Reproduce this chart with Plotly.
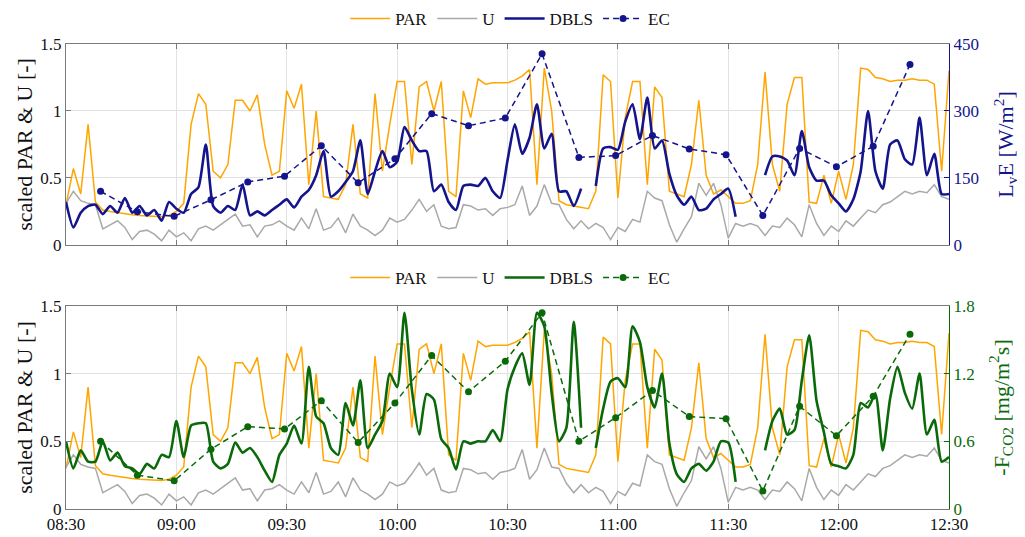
import pandas as pd
import plotly.graph_objects as go
from plotly.subplots import make_subplots

# ---------------- data ----------------
DAY = "2019-07-01"
# 2-minute grid 08:30 ... 12:30
time = pd.date_range(f"{DAY} 08:30", periods=121, freq="2min")
# EC averaging intervals (10 min)
ec_time = pd.date_range(f"{DAY} 08:39:24", periods=23, freq="10min")

# scaled PAR [-]
par = [
    0.30, 0.57, 0.38, 0.90, 0.32, 0.26, 0.25, 0.24, 0.23, 0.225,
    0.22, 0.215, 0.21, 0.21, 0.22, 0.25, 0.31, 0.90, 1.13, 1.05,
    0.55, 0.50, 0.60, 1.08, 1.08, 1.00, 1.12, 0.75, 0.52, 0.55,
    1.15, 1.02, 1.20, 0.45, 1.00, 0.36, 0.35, 0.34, 0.45, 0.90,
    0.38, 0.35, 1.13, 0.55, 0.90, 1.22, 1.22, 0.60, 1.18, 1.22,
    1.00, 1.22, 0.40, 0.36, 1.15, 0.95, 1.24, 1.20, 1.21, 1.21,
    1.21, 1.23, 1.26, 1.31, 0.45, 1.32, 1.00, 0.33, 0.30, 0.29,
    0.28, 0.27, 0.40, 1.27, 1.22, 0.35, 0.95, 1.22, 1.22, 0.45,
    1.18, 1.10, 0.40, 0.38, 0.36, 0.60, 1.08, 0.52, 0.38, 0.41,
    0.36, 0.31, 0.31, 0.33, 0.60, 1.29, 0.60, 0.40, 1.05, 1.25,
    1.25, 0.32, 0.31, 0.52, 0.31, 0.55, 0.34, 0.60, 1.32, 1.31,
    1.25, 1.24, 1.22, 1.23, 1.23, 1.24, 1.23, 1.23, 1.20, 0.55,
    1.30,
]

# scaled U [-]
u = [
    0.31, 0.40, 0.33, 0.31, 0.30, 0.12, 0.15, 0.18, 0.13, 0.04,
    0.10, 0.11, 0.08, 0.03, 0.11, 0.06, 0.09, 0.03, 0.12, 0.14,
    0.11, 0.15, 0.19, 0.23, 0.14, 0.15, 0.06, 0.14, 0.15, 0.18,
    0.14, 0.11, 0.20, 0.12, 0.27, 0.11, 0.13, 0.20, 0.09, 0.23,
    0.14, 0.11, 0.07, 0.11, 0.20, 0.17, 0.19, 0.26, 0.34, 0.25,
    0.30, 0.14, 0.12, 0.13, 0.30, 0.29, 0.26, 0.27, 0.22, 0.27,
    0.28, 0.30, 0.44, 0.22, 0.29, 0.45, 0.31, 0.30, 0.19, 0.12,
    0.18, 0.12, 0.16, 0.13, 0.04, 0.13, 0.10, 0.19, 0.17, 0.40,
    0.35, 0.33, 0.15, 0.02, 0.12, 0.21, 0.46, 0.37, 0.46, 0.30,
    0.05, 0.16, 0.14, 0.16, 0.14, 0.07, 0.14, 0.13, 0.20, 0.15,
    0.06, 0.30, 0.16, 0.07, 0.14, 0.10, 0.18, 0.14, 0.20, 0.26,
    0.24, 0.30, 0.32, 0.36, 0.40, 0.38, 0.40, 0.39, 0.45, 0.36,
    0.34,
]

# DBLS latent heat flux L_vE [W/m2]
dbls_le = [
    96, 39, 72, 87, 90, 69, 87, 72, 105, 72,
    87, 66, 78, 54, 96, 81, 72, 114, 129, 225,
    87, 72, 87, 78, 135, 66, 75, 66, 78, 90,
    102, 84, 108, 123, 156, 210, 108, 120, 141, 165,
    234, 114, 165, 210, 174, 186, 264, 234, 210, 210,
    120, 135, 96, 78, 132, 135, 132, 150, 120, 105,
    189, 270, 204, 240, 315, 216, 249, 120, 120, 87,
    126, None, 132, 216, 219, 213, 276, 315, 237, 330,
    216, 234, 159, 111, 90, 108, 78, 81, 102, 114,
    126, 63, None, None, None, 156, 198, 198, 189, 156,
    255, 174, 144, 144, 111, 93, 75, 102, 165, 300,
    165, 126, 225, 234, 192, 180, 285, 156, 204, 114,
    114,
]

# DBLS CO2 flux -F_CO2 [mg/m2 s]
dbls_fc = [
    0.60, 0.36, 0.52, 0.42, 0.42, 0.60, 0.43, 0.50, 0.38, 0.36,
    0.31, 0.40, 0.36, 0.48, 0.46, 0.78, 0.46, 0.74, 0.76, 0.76,
    0.42, 0.36, 0.40, 0.59, 0.50, 0.54, 0.46, 0.34, 0.24, 0.48,
    0.58, 0.74, 0.58, 1.26, 0.82, 0.76, 0.54, 0.48, 0.94, 0.74,
    1.14, 0.54, 0.66, 0.78, 1.20, 1.08, 1.74, 1.06, 0.66, 1.02,
    0.97, 0.62, 0.54, 0.35, 0.60, 0.58, 0.60, 0.60, 0.70, 0.60,
    1.06, 1.26, 1.38, 1.10, 1.74, 1.62, 1.03, 0.60, 0.72, 1.66,
    0.72, None, 0.54, 0.89, 1.13, 1.16, 1.08, 1.62, 1.48, 1.08,
    0.90, 1.20, 0.58, 0.31, 0.24, 0.36, 0.40, 0.34, 0.42, 0.60,
    0.59, 0.24, None, None, None, 0.52, 0.78, 0.89, 0.66, 0.70,
    1.14, 1.54, 0.96, 0.68, 0.40, 0.38, 0.36, 0.48, 0.94, 0.90,
    1.02, 0.52, 0.98, 1.26, 1.03, 0.89, 1.20, 0.66, 0.79, 0.42,
    0.46,
]

# EC 10-min fluxes
ec_le = [120, 74, 64, 101, 141, 154, 222, 139, 193, 294, 267, 284,
         428, 196, 200, 245, 215, 202, 66, 216, 175, 221, 404]
ec_fc = [0.60, 0.30, 0.25, 0.53, 0.73, 0.71, 0.96, 0.59, 0.94, 1.36, 1.04, 1.31,
         1.74, 0.60, 0.81, 1.05, 0.82, 0.80, 0.16, 0.91, 0.65, 1.00, 1.55]

left_ticks = [0, 0.5, 1, 1.5]
left_ticktext = ["0", "0.5", "1", "1.5"]
le_ticks = [0, 150, 300, 450]
fc_ticks = [0, 0.6, 1.2, 1.8]
fc_ticktext = ["0", "0.6", "1.2", "1.8"]

# ---------------- styling ----------------
FONT = "Liberation Serif"
ORANGE = "#FFA500"
GRAY = "#A9A9A9"
BLUE = "#14148C"
GREEN = "#0A6A0A"
AXC = "#7A7A7A"
GRID = "#E2E2E2"
TXT = "#111111"

fig = make_subplots(rows=2, cols=1,
                    specs=[[{"secondary_y": True}], [{"secondary_y": True}]])

for row, flux, ec, col, leg in [(1, dbls_le, ec_le, BLUE, "legend"),
                                (2, dbls_fc, ec_fc, GREEN, "legend2")]:
    fig.add_trace(go.Scatter(x=time, y=par, name="PAR", mode="lines",
                             line=dict(color=ORANGE, width=1.5), legend=leg),
                  row=row, col=1, secondary_y=False)
    fig.add_trace(go.Scatter(x=time, y=u, name="U", mode="lines",
                             line=dict(color=GRAY, width=1.5), legend=leg),
                  row=row, col=1, secondary_y=False)
    fig.add_trace(go.Scatter(x=time, y=flux, name="DBLS", mode="lines",
                             line=dict(color=col, width=2.6, shape="spline", smoothing=0.6),
                             connectgaps=False, legend=leg),
                  row=row, col=1, secondary_y=True)
    fig.add_trace(go.Scatter(x=ec_time, y=ec, name="EC", mode="lines+markers",
                             line=dict(color=col, width=1.5, dash="6px,4px"),
                             marker=dict(color=col, size=7), legend=leg),
                  row=row, col=1, secondary_y=True)

xcommon = dict(type="date", domain=[0.0, 1.0],
               range=[f"{DAY} 08:30", f"{DAY} 12:30"],
               tick0=f"{DAY} 08:30", dtick=30 * 60 * 1000, tickformat="%H:%M",
               showgrid=True, gridcolor=GRID, gridwidth=1,
               showline=True, linecolor=AXC, linewidth=1, mirror="ticks",
               ticks="inside", ticklen=5, tickcolor=AXC,
               zeroline=False, automargin=False,
               tickfont=dict(family=FONT, size=17, color=TXT))
fig.update_xaxes(**xcommon)
fig.update_xaxes(showticklabels=False, row=1, col=1)

ycommon = dict(range=[0, 1.5], tickvals=left_ticks, ticktext=left_ticktext,
               showgrid=True, gridcolor=GRID, showline=True, linecolor=AXC,
               ticks="inside", ticklen=5, tickcolor=AXC, zeroline=False,
               automargin=False,
               tickfont=dict(family=FONT, size=17, color=TXT),
               title=dict(text="scaled PAR &amp; U [-]", standoff=1,
                          font=dict(family=FONT, size=22, color=TXT)))
fig.update_yaxes(**ycommon, row=1, col=1, secondary_y=False)
fig.update_yaxes(**ycommon, row=2, col=1, secondary_y=False)

fig.update_yaxes(range=[0, 450], tickvals=le_ticks, showgrid=False, zeroline=False,
                 showline=True, linecolor=BLUE, ticks="inside", ticklen=5, tickcolor=BLUE,
                 automargin=False,
                 tickfont=dict(family=FONT, size=17, color=BLUE),
                 title=dict(text="L<sub>v</sub>E [W/m<sup>2</sup>]", standoff=19,
                            font=dict(family=FONT, size=22, color=BLUE)),
                 row=1, col=1, secondary_y=True)
fig.update_yaxes(range=[0, 1.8], tickvals=fc_ticks, ticktext=fc_ticktext,
                 showgrid=False, zeroline=False,
                 showline=True, linecolor=GREEN, ticks="inside", ticklen=5, tickcolor=GREEN,
                 automargin=False,
                 tickfont=dict(family=FONT, size=17, color=GREEN),
                 title=dict(text="-F<sub>CO2</sub> [mg/m<sup>2</sup>s]", standoff=19,
                            font=dict(family=FONT, size=22, color=GREEN)),
                 row=2, col=1, secondary_y=True)

# the page body adds an 8 px offset; size the figure so the frame lands on the reference
fig.update_layout(
    template="none",
    width=1017, height=529,
    margin=dict(l=58, r=76, t=36, b=28, autoexpand=False),
    paper_bgcolor="white", plot_bgcolor="white",
    font=dict(family=FONT, size=17, color=TXT),
    yaxis=dict(domain=[0.568, 1.0]),
    yaxis3=dict(domain=[0.0, 0.4366]),
    legend=dict(orientation="h", x=0.503, xanchor="center", y=1.054, yanchor="middle",
                bgcolor="rgba(0,0,0,0)", font=dict(family=FONT, size=17, color=TXT),
                itemwidth=40, traceorder="normal"),
    legend2=dict(orientation="h", x=0.503, xanchor="center", y=0.497, yanchor="middle",
                 bgcolor="rgba(0,0,0,0)", font=dict(family=FONT, size=17, color=TXT),
                 itemwidth=40, traceorder="normal"),
    showlegend=True,
)

fig.write_html("out.html")
